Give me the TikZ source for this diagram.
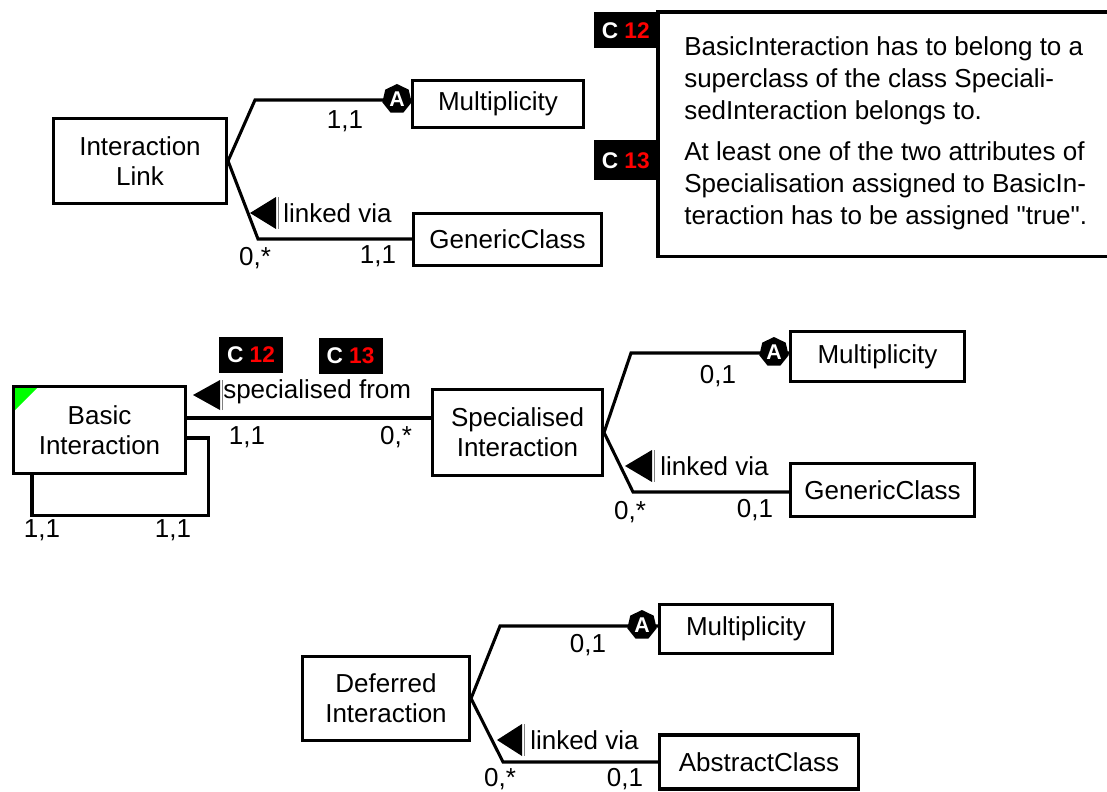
\documentclass[tikz,border=0pt]{standalone}
\usepackage{fontspec}
\setmainfont{Liberation Sans}
\newfontfamily\qfont{Liberation Sans}
\usetikzlibrary{calc,shapes.geometric}
\newcommand\lblfont{\fontsize{19.5}{22.5}\selectfont}
\begin{document}
\begin{tikzpicture}[x=0.75pt,y=-0.75pt,
  box/.style={draw,line width=2.3pt,inner sep=0pt,align=center,font=\lblfont},
  conn/.style={line width=2.3pt},
  lab/.style={inner sep=0pt,font=\lblfont},
  abadge/.style={regular polygon,regular polygon sides=7,fill=black,minimum size=30*0.75pt,inner sep=0pt,text=white,font=\bfseries\fontsize{16}{16}\selectfont},
  cbadge/.style={fill=black,minimum width=64*0.75pt,minimum height=36*0.75pt,inner sep=0pt,font=\bfseries\fontsize{17}{17}\selectfont},
  tri/.style={fill=black},
  triline/.style={draw=gray,line width=0.6pt}]
\useasboundingbox (0,0) rectangle (1107,792);

% ---------- top group ----------
\node[box,minimum width=173*0.75pt,minimum height=85*0.75pt] (il) at (140,161) {Interaction\\Link};
\node[box,minimum width=171*0.75pt,minimum height=47*0.75pt] (m1) at (498,104) {Multiplicity};
\node[box,minimum width=188*0.75pt,minimum height=52*0.75pt] (g1) at (507.5,239.5) {GenericClass};
\coordinate (t1) at (255,100);
\coordinate (t2) at (258,239);
\draw[conn] (il.east) -- (t1) -- (t1 -| m1.west);
\draw[conn] (il.east) -- (t2) -- (t2 -| g1.west);
\node[abadge] (a1) at ($(t1 -| m1.west)+(-14,-1)$) {A};
\node[lab] (l1) at (345,121) {1,1};
\fill[tri] (250,213) -- (276,197) -- (276,229) -- cycle;
\draw[triline] (278,197) -- (278,229);
\node[lab,anchor=west] (lv1) at (283,213) {linked via};
\node[lab] (l2) at (255,258) {0,*};
\node[lab] (l3) at (378,256) {1,1};

% constraint box
\node[minimum width=470*0.75pt,minimum height=244*0.75pt,inner sep=0pt,anchor=north west] (cbox) at (658,12) {};
\draw[conn] (cbox.north east) -- (cbox.north west) -- (cbox.south west) -- (cbox.south east);
\node[lab,anchor=north west,align=left,font=\fontsize{19.5}{24}\selectfont] (ctext) at (684,36)
 {BasicInteraction has to belong to a\\
  superclass of the class Speciali-\\
  sedInteraction belongs to.\\[7pt]
  At least one of the two attributes of\\
  Specialisation assigned to BasicIn-\\
  teraction has to be assigned {\qfont"}true{\qfont"}.};
\node[cbadge,anchor=north east] (c12a) at (cbox.north west) {\color{white}C \color{red}12};
\node[cbadge,anchor=north east,minimum height=40*0.75pt] (c13a) at ($(cbox.north west)+(0,128)$) {\color{white}C \color{red}13};

% ---------- middle group ----------
\node[box,minimum width=172*0.75pt,minimum height=87*0.75pt,
  path picture={\fill[green] (path picture bounding box.north west) -- ++(25,0) -- ++(-25,25) -- cycle;}] (bi) at (99.5,430) {Basic\\Interaction};
\node[box,minimum width=170*0.75pt,minimum height=86*0.75pt] (si) at (517.5,432.5) {Specialised\\Interaction};
\coordinate (sp) at (300,418);
\draw[conn] (sp -| bi.east) -- (sp -| si.west);
\draw[conn] ($(bi.south west)+(20,0)$) |- ($(bi.south east)+(21,40)$) |- ($(bi.east)+(0,8)$);
\node[lab] (l4) at (42,530) {1,1};
\node[lab] (l5) at (173,530) {1,1};
\fill[tri] (193,395) -- (220,380) -- (220,410) -- cycle;
\draw[triline] (222,380) -- (222,410);
\node[lab,anchor=west] (spf) at (223,392) {specialised from};
\node[lab] (l6) at (247,437) {1,1};
\node[lab] (l7) at (396,437) {0,*};
\node[cbadge] (c12b) at (251,355) {\color{white}C \color{red}12};
\node[cbadge] (c13b) at (350.5,356) {\color{white}C \color{red}13};

\node[box,minimum width=174*0.75pt,minimum height=50*0.75pt] (m2) at (877.5,356.5) {Multiplicity};
\node[box,minimum width=184*0.75pt,minimum height=53*0.75pt] (g2) at (882.5,490) {GenericClass};
\coordinate (s1) at (631,353);
\coordinate (s2) at (633,492);
\draw[conn] (si.east) -- (s1) -- (s1 -| m2.west);
\draw[conn] (si.east) -- (s2) -- (s2 -| g2.west);
\node[abadge] (a2) at ($(s1 -| m2.west)+(-15,-1)$) {A};
\node[lab] (l8) at (718,376) {0,1};
\fill[tri] (625,466) -- (652,450) -- (652,482) -- cycle;
\draw[triline] (654,450) -- (654,482);
\node[lab,anchor=west] (lv2) at (660,466) {linked via};
\node[lab] (l9) at (630,512) {0,*};
\node[lab] (l10) at (755,510) {0,1};

% ---------- bottom group ----------
\node[box,minimum width=167*0.75pt,minimum height=84*0.75pt] (di) at (386,698.5) {Deferred\\Interaction};
\node[box,minimum width=173*0.75pt,minimum height=49*0.75pt] (m3) at (746,629) {Multiplicity};
\node[box,minimum width=199*0.75pt,minimum height=54*0.75pt] (ac) at (759,762) {AbstractClass};
\coordinate (d1) at (500,626);
\coordinate (d2) at (503,762);
\draw[conn] (di.east) -- (d1) -- (d1 -| m3.west);
\draw[conn] (di.east) -- (d2) -- (d2 -| ac.west);
\node[abadge] (a3) at ($(d1 -| m3.west)+(-16,-1)$) {A};
\node[lab] (l11) at (588,645) {0,1};
\fill[tri] (497,740) -- (522,724) -- (522,756) -- cycle;
\draw[triline] (524,724) -- (524,756);
\node[lab,anchor=west] (lv3) at (530,740) {linked via};
\node[lab] (l12) at (500,779) {0,*};
\node[lab] (l13) at (625,779) {0,1};
\end{tikzpicture}
\end{document}
